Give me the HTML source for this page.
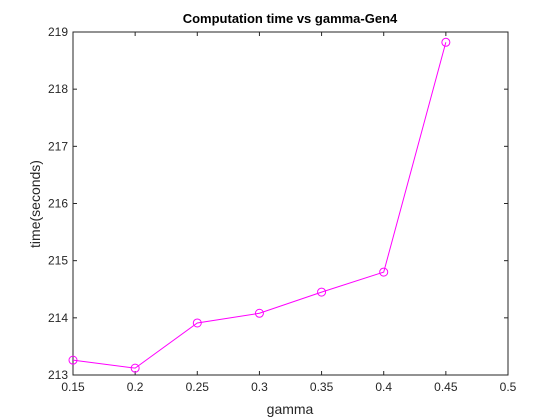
<!DOCTYPE html>
<html><head><meta charset="utf-8"><style>
html,body{margin:0;padding:0;background:#fff;}
svg{display:block;font-family:"Liberation Sans",Arial,sans-serif;}
</style></head><body>
<svg id="chart" width="560" height="420">
<rect x="0" y="0" width="560" height="420" fill="#fff"/>
<rect x="73" y="32" width="435" height="343" fill="#fff" stroke="#262626" stroke-width="1"/>
<g id="axes"></g>
<g id="series"></g>
<text x="290" y="23" text-anchor="middle" font-size="13" font-weight="bold" fill="#000">Computation time vs gamma-Gen4</text>
<text x="290" y="414" text-anchor="middle" font-size="14" fill="#262626">gamma</text>
<text transform="translate(40,204) rotate(-90)" text-anchor="middle" font-size="14" fill="#262626">time(seconds)</text>
</svg>
<script>
const gammaValues = [0.15, 0.2, 0.25, 0.3, 0.35, 0.4, 0.45];
const timeValues = [213.26, 213.12, 213.91, 214.08, 214.45, 214.80, 218.82];
const xTicks = [0.15, 0.2, 0.25, 0.3, 0.35, 0.4, 0.45, 0.5];
const xTickLabels = ["0.15", "0.2", "0.25", "0.3", "0.35", "0.4", "0.45", "0.5"];
const yTicks = [213, 214, 215, 216, 217, 218, 219];
const yTickLabels = ["213", "214", "215", "216", "217", "218", "219"];

const X0 = 73, X1 = 508, Y0 = 375, Y1 = 32;
const xMin = 0.15, xMax = 0.5, yMin = 213, yMax = 219;
function xs(v){ return X0 + (v - xMin) / (xMax - xMin) * (X1 - X0); }
function ys(v){ return Y0 - (v - yMin) / (yMax - yMin) * (Y0 - Y1); }
const NS = "http://www.w3.org/2000/svg";
const axes = document.getElementById('axes');
const series = document.getElementById('series');
function mk(tag, attrs, parent){
  const e = document.createElementNS(NS, tag);
  for (const k in attrs) e.setAttribute(k, attrs[k]);
  parent.appendChild(e);
  return e;
}
xTicks.forEach((t, i) => {
  const x = xs(t);
  const l1 = mk('line', {x1:x, x2:x, y1:Y0, y2:Y0-4, stroke:'#262626'}, axes);
  
  
  const l2 = mk('line', {x1:x, x2:x, y1:Y1, y2:Y1+4, stroke:'#262626'}, axes);
  
  
  const tx = mk('text', {x:x, y:Y0+16, 'text-anchor':'middle', 'font-size':12, fill:'#262626'}, axes);
  tx.textContent = xTickLabels[i];
  
  
});
yTicks.forEach((t, i) => {
  const y = ys(t);
  const l1 = mk('line', {x1:X0, x2:X0+4, y1:y, y2:y, stroke:'#262626'}, axes);
  
  
  const l2 = mk('line', {x1:X1, x2:X1-4, y1:y, y2:y, stroke:'#262626'}, axes);
  
  
  const tx = mk('text', {x:X0-5, y:y+4, 'text-anchor':'end', 'font-size':12, fill:'#262626'}, axes);
  tx.textContent = yTickLabels[i];
  
  
});
const pts = gammaValues.map((g, i) => xs(g) + ',' + ys(timeValues[i])).join(' ');
const line = mk('polyline', {points:pts, fill:'none', stroke:'#ff00ff', 'stroke-width':1}, series);


gammaValues.forEach((g, i) => {
  const c = mk('circle', {cx:xs(g), cy:ys(timeValues[i]), r:4, fill:'none', stroke:'#ff00ff', 'stroke-width':1}, series);
  
  
});
</script>
</body></html>
